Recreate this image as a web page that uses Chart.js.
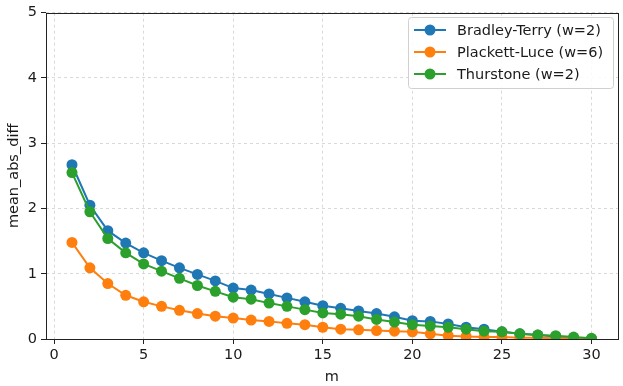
<!DOCTYPE html>
<html>
<head>
<meta charset="utf-8">
<script src="https://cdn.jsdelivr.net/npm/chart.js@4"></script>
<style>
  html, body { margin: 0; padding: 0; background: #fff; }
  #wrap { width: 623px; height: 386px; }
</style>
</head>
<body>
<div id="wrap"><canvas id="chart" width="623" height="386"></canvas></div>
<script>
// values
const mValues = [1, 2, 3, 4, 5, 6, 7, 8, 9, 10, 11, 12, 13, 14, 15, 16, 17, 18, 19, 20, 21, 22, 23, 24, 25, 26, 27, 28, 29, 30];
const bradleyTerry = [2.67, 2.05, 1.66, 1.47, 1.32, 1.20, 1.09, 0.99, 0.89, 0.78, 0.75, 0.69, 0.63, 0.57, 0.51, 0.47, 0.43, 0.39, 0.34, 0.28, 0.27, 0.23, 0.18, 0.15, 0.11, 0.08, 0.06, 0.04, 0.02, 0.00];
const plackettLuce = [1.48, 1.09, 0.85, 0.67, 0.57, 0.50, 0.44, 0.39, 0.35, 0.32, 0.29, 0.27, 0.24, 0.22, 0.18, 0.15, 0.14, 0.13, 0.12, 0.11, 0.08, 0.05, 0.04, 0.03, 0.03, 0.02, 0.02, 0.01, 0.01, 0.00];
const thurstone = [2.55, 1.95, 1.54, 1.32, 1.15, 1.04, 0.93, 0.82, 0.73, 0.64, 0.61, 0.55, 0.50, 0.45, 0.40, 0.38, 0.35, 0.30, 0.26, 0.22, 0.20, 0.18, 0.15, 0.12, 0.11, 0.08, 0.06, 0.05, 0.03, 0.01];
const seriesNames = ['Bradley-Terry (w=2)', 'Plackett-Luce (w=6)', 'Thurstone (w=2)'];
const seriesColors = ['#1f77b4', '#ff7f0e', '#2ca02c'];
const xTicks = [0, 5, 10, 15, 20, 25, 30];

const FONT = 'DejaVu Sans';
const TEXT = '#1a1a1a';

function toPoints(ys) {
    return mValues.map((m, i) => ({ x: m, y: ys[i] }));
}

function makeSet(idx, ys, order) {
    return {
        label: seriesNames[idx],
        data: toPoints(ys),
        borderColor: seriesColors[idx],
        backgroundColor: seriesColors[idx],
        borderWidth: 2,
        pointRadius: 5.5,
        pointBorderWidth: 0,
        pointHoverRadius: 5.5,
        tension: 0,
        order: order
    };
}

const gridOpts = {
    color: '#d0d0d0',
    lineWidth: 0.8,
    tickColor: '#222',
    tickBorderDash: [],
    tickLength: 5,
    tickWidth: 1
};

// full box around plot + matplotlib-like legend in upper right
const framePlugin = {
    id: 'frame',
    afterDraw(chart) {
        const { ctx, chartArea: a } = chart;
        ctx.save();
        ctx.setLineDash([]);
        ctx.strokeStyle = '#222';
        ctx.lineWidth = 1;
        ctx.strokeRect(Math.round(a.left) + 0.5, Math.round(a.top) + 0.5,
            Math.round(a.right - a.left), Math.round(a.bottom - a.top));

        // legend
        const bx = 408, by = 17, bw = 205, bh = 71;
        ctx.fillStyle = 'rgba(255,255,255,0.85)';
        ctx.strokeStyle = '#d0d0d0';
        ctx.lineWidth = 1;
        ctx.beginPath();
        ctx.roundRect(bx + 0.5, by + 0.5, bw, bh, 3);
        ctx.fill();
        ctx.stroke();

        ctx.font = '14.5px "' + FONT + '"';
        ctx.textBaseline = 'middle';
        ctx.textAlign = 'left';
        seriesNames.forEach((name, i) => {
            const y = by + 13 + i * 22;
            ctx.strokeStyle = seriesColors[i];
            ctx.lineWidth = 2;
            ctx.beginPath();
            ctx.moveTo(414, y);
            ctx.lineTo(446, y);
            ctx.stroke();
            ctx.fillStyle = seriesColors[i];
            ctx.beginPath();
            ctx.arc(430, y, 5.5, 0, Math.PI * 2);
            ctx.fill();
            ctx.fillStyle = TEXT;
            ctx.fillText(name, 457, y + 1);
        });
        ctx.restore();
    }
};

new Chart(document.getElementById('chart'), {
    type: 'line',
    data: {
        datasets: [
            makeSet(0, bradleyTerry, 2),
            makeSet(1, plackettLuce, 1),
            makeSet(2, thurstone, 0)
        ]
    },
    options: {
        responsive: false,
        animation: false,
        layout: { padding: { top: 9, right: 4, left: 0, bottom: 0 } },
        plugins: {
            legend: { display: false },
            tooltip: { enabled: false }
        },
        scales: {
            x: {
                type: 'linear',
                min: -0.45,
                max: 31.45,
                afterBuildTicks: (scale) => {
                    scale.ticks = xTicks.map(v => ({ value: v }));
                },
                afterFit: (scale) => { scale.height = 47; },
                grid: gridOpts,
                border: { display: false, dash: [3, 3] },
                ticks: {
                    color: TEXT,
                    font: { family: FONT, size: 14.5 },
                    padding: 3,
                    maxRotation: 0
                },
                title: {
                    display: true,
                    text: 'm',
                    color: TEXT,
                    font: { family: FONT, size: 14.5 },
                    padding: { top: 2, bottom: 0 }
                }
            },
            y: {
                min: 0,
                max: 5,
                ticks: {
                    stepSize: 1,
                    color: TEXT,
                    font: { family: FONT, size: 14.5 },
                    padding: 4
                },
                afterFit: (scale) => { scale.width = 46; },
                grid: gridOpts,
                border: { display: false, dash: [3, 3] },
                title: {
                    display: true,
                    text: 'mean_abs_diff',
                    color: TEXT,
                    font: { family: FONT, size: 14.5 },
                    padding: { top: 6, bottom: 2 }
                }
            }
        }
    },
    plugins: [framePlugin]
});
</script>
</body>
</html>
